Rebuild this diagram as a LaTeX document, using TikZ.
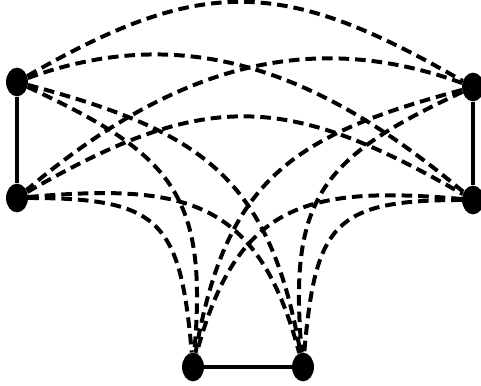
\documentclass[tikz,border=0pt]{standalone}
\usetikzlibrary{shapes.geometric}
\tikzset{
  vrch/.style={ellipse,fill=black,minimum width=5.8mm,minimum height=7.6mm,inner sep=0pt},
  hrana/.style={line width=2.4pt},
  prer/.style={line width=3pt,dash pattern=on 8pt off 4.5pt},
}
\begin{document}
\begin{tikzpicture}[x=0.0265cm,y=-0.0265cm]
  \useasboundingbox (0,0) rectangle (481,386);
  \node[vrch] (a1) at (17,82) {}; \node[vrch] (a2) at (17,198) {};
  \node[vrch] (b1) at (473,87) {}; \node[vrch] (b2) at (473,200) {};
  \node[vrch] (c1) at (193,367) {}; \node[vrch] (c2) at (303,367) {};
  \draw[hrana] (a1)--(a2);
  \draw[hrana] (b1)--(b2);
  \draw[hrana] (c1)--(c2);
  \draw[prer] (a1) to[out=30,in=150,looseness=1.2] (b1);
  \draw[prer] (a2) to[out=30,in=150,looseness=1.2] (b2);
  \draw[prer] (a1) to[out=20,in=140] (b2);
  \draw[prer] (b1) to[out=160,in=40] (a2);
  \draw[prer] (a1) to[out=-25,in=85,looseness=1.3] (c1);
  \draw[prer] (a1) to[out=-15,in=100,looseness=1.2] (c2);
  \draw[prer] (a2) to[out=0,in=95,looseness=1.5] (c1);
  \draw[prer] (a2) to[out=5,in=105,looseness=1.3] (c2);
  \draw[prer] (b1) to[out=205,in=95,looseness=1.3] (c2);
  \draw[prer] (b1) to[out=195,in=80,looseness=1.2] (c1);
  \draw[prer] (b2) to[out=180,in=85,looseness=1.5] (c2);
  \draw[prer] (b2) to[out=175,in=75,looseness=1.3] (c1);
\end{tikzpicture}
\end{document}
